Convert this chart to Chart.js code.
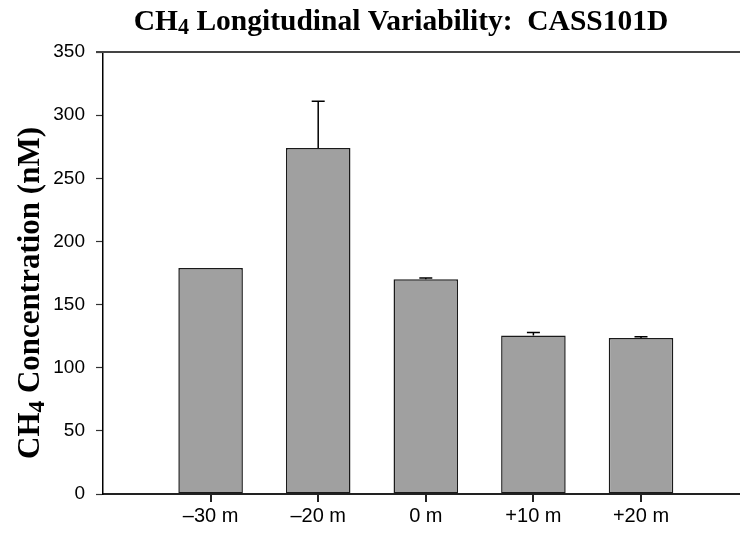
<!DOCTYPE html>
<html lang="en">
<head>
  <meta charset="UTF-8" />
  <title>CH4 Longitudinal Variability: CASS101D</title>
  <script src="https://cdn.jsdelivr.net/npm/chart.js"></script>
  <style>
    html, body { margin: 0; padding: 0; background: #fff; overflow: hidden; }
    #wrap { width: 740px; height: 535px; position: relative; }
  </style>
</head>
<body>
  <div id="wrap"><canvas id="ch4Chart"></canvas></div>

  <script>
    // data
    const categories = ['\u201330 m', '\u201320 m', '0 m', '+10 m', '+20 m'];
    const xPos = [1, 2, 3, 4, 5];
    const meanCH4 = [179, 274, 170, 125.5, 123.5];
    const errUp = [0, 37, 1, 2.4, 1];
    const yTickStep = 50;

    // draws text with a subscript "4" after "CH"
    function drawSubText(ctx, parts, size) {
      let total = 0;
      parts.forEach(p => {
        ctx.font = 'bold ' + (p.sub ? size * 0.75 : size) + 'px "Liberation Serif", "Times New Roman", serif';
        p.w = ctx.measureText(p.t).width;
        total += p.w;
      });
      let x = -total / 2;
      parts.forEach(p => {
        ctx.font = 'bold ' + (p.sub ? size * 0.75 : size) + 'px "Liberation Serif", "Times New Roman", serif';
        ctx.fillText(p.t, x, p.sub ? size * 0.22 : 0);
        x += p.w;
      });
      return total;
    }

    const titlesPlugin = {
      id: 'titles',
      afterDraw(chart) {
        const ctx = chart.ctx;
        const area = chart.chartArea;
        const xs = chart.scales.x;
        ctx.save();
        // x tick marks below the axis
        ctx.strokeStyle = '#222';
        ctx.lineWidth = 2;
        xPos.forEach(xv => {
          const px = Math.round(xs.getPixelForValue(xv));
          ctx.beginPath();
          ctx.moveTo(px, area.bottom + 1);
          ctx.lineTo(px, area.bottom + 8);
          ctx.stroke();
        });
        ctx.fillStyle = '#000';
        ctx.textBaseline = 'middle';
        ctx.textAlign = 'left';
        // main title
        ctx.save();
        ctx.translate(401, 22);
        drawSubText(ctx, [{t: 'CH'}, {t: '4', sub: true}, {t: ' Longitudinal Variability:  CASS101D'}], 29.5);
        ctx.restore();
        // y axis title
        ctx.save();
        ctx.translate(31, (area.top + area.bottom) / 2 + 20);
        ctx.rotate(-Math.PI / 2);
        drawSubText(ctx, [{t: 'CH'}, {t: '4', sub: true}, {t: ' Concentration (nM)'}], 31);
        ctx.restore();
        ctx.restore();
      }
    };

    const frameAndErrors = {
      id: 'frameAndErrors',
      afterDatasetsDraw(chart) {
        const ctx = chart.ctx;
        const area = chart.chartArea;
        const xs = chart.scales.x;
        const ys = chart.scales.y;
        ctx.save();
        // top frame line at the axis maximum
        ctx.strokeStyle = '#444';
        ctx.lineWidth = 2;
        ctx.beginPath();
        ctx.moveTo(area.left - 7, area.top);
        ctx.lineTo(area.right, area.top);
        ctx.stroke();
        // upward error bars
        ctx.strokeStyle = '#000';
        ctx.lineWidth = 1.5;
        xPos.forEach((xv, i) => {
          if (!errUp[i]) return;
          const px = xs.getPixelForValue(xv);
          const y0 = ys.getPixelForValue(meanCH4[i]);
          const y1 = ys.getPixelForValue(meanCH4[i] + errUp[i]);
          ctx.beginPath();
          ctx.moveTo(px, y0);
          ctx.lineTo(px, y1);
          ctx.moveTo(px - 6.5, y1);
          ctx.lineTo(px + 6.5, y1);
          ctx.stroke();
        });
        ctx.restore();
      }
    };

    new Chart(document.getElementById('ch4Chart').getContext('2d'), {
      type: 'bar',
      data: {
        datasets: [{
          label: 'CH4',
          data: xPos.map((x, i) => ({ x: x, y: meanCH4[i] })),
          backgroundColor: '#a0a0a0',
          borderColor: '#1a1a1a',
          borderWidth: 1.5,
          borderSkipped: false,
          barPercentage: 0.6,
          categoryPercentage: 1
        }]
      },
      options: {
        responsive: true,
        maintainAspectRatio: false,
        animation: false,
        layout: { padding: { left: 0, right: 0, top: 52, bottom: 0 } },
        plugins: {
          legend: { display: false },
          tooltip: { enabled: false }
        },
        scales: {
          x: {
            type: 'linear',
            min: 0,
            max: 5.92,
            offset: false,
            afterBuildTicks: s => { s.ticks = xPos.map(v => ({ value: v })); },
            afterFit: s => { s.height = 41; },
            grid: { drawOnChartArea: false, drawTicks: false },
            border: { display: true, color: '#222', width: 2 },
            ticks: {
              autoSkip: false,
              maxRotation: 0,
              padding: 10,
              color: '#000',
              font: { family: '"Liberation Sans", Arial, sans-serif', size: 20 },
              callback: v => categories[xPos.indexOf(v)]
            }
          },
          y: {
            min: 0,
            max: 350,
            afterFit: s => { s.width = 103; },
            grid: { drawOnChartArea: false, tickLength: 7, color: '#333', tickWidth: 1.2 },
            border: { display: true, color: '#000', width: 1.5 },
            ticks: {
              stepSize: yTickStep,
              padding: 11,
              color: '#000',
              font: { family: '"Liberation Sans", Arial, sans-serif', size: 19 }
            }
          }
        }
      },
      plugins: [titlesPlugin, frameAndErrors]
    });
  </script>
</body>
</html>
